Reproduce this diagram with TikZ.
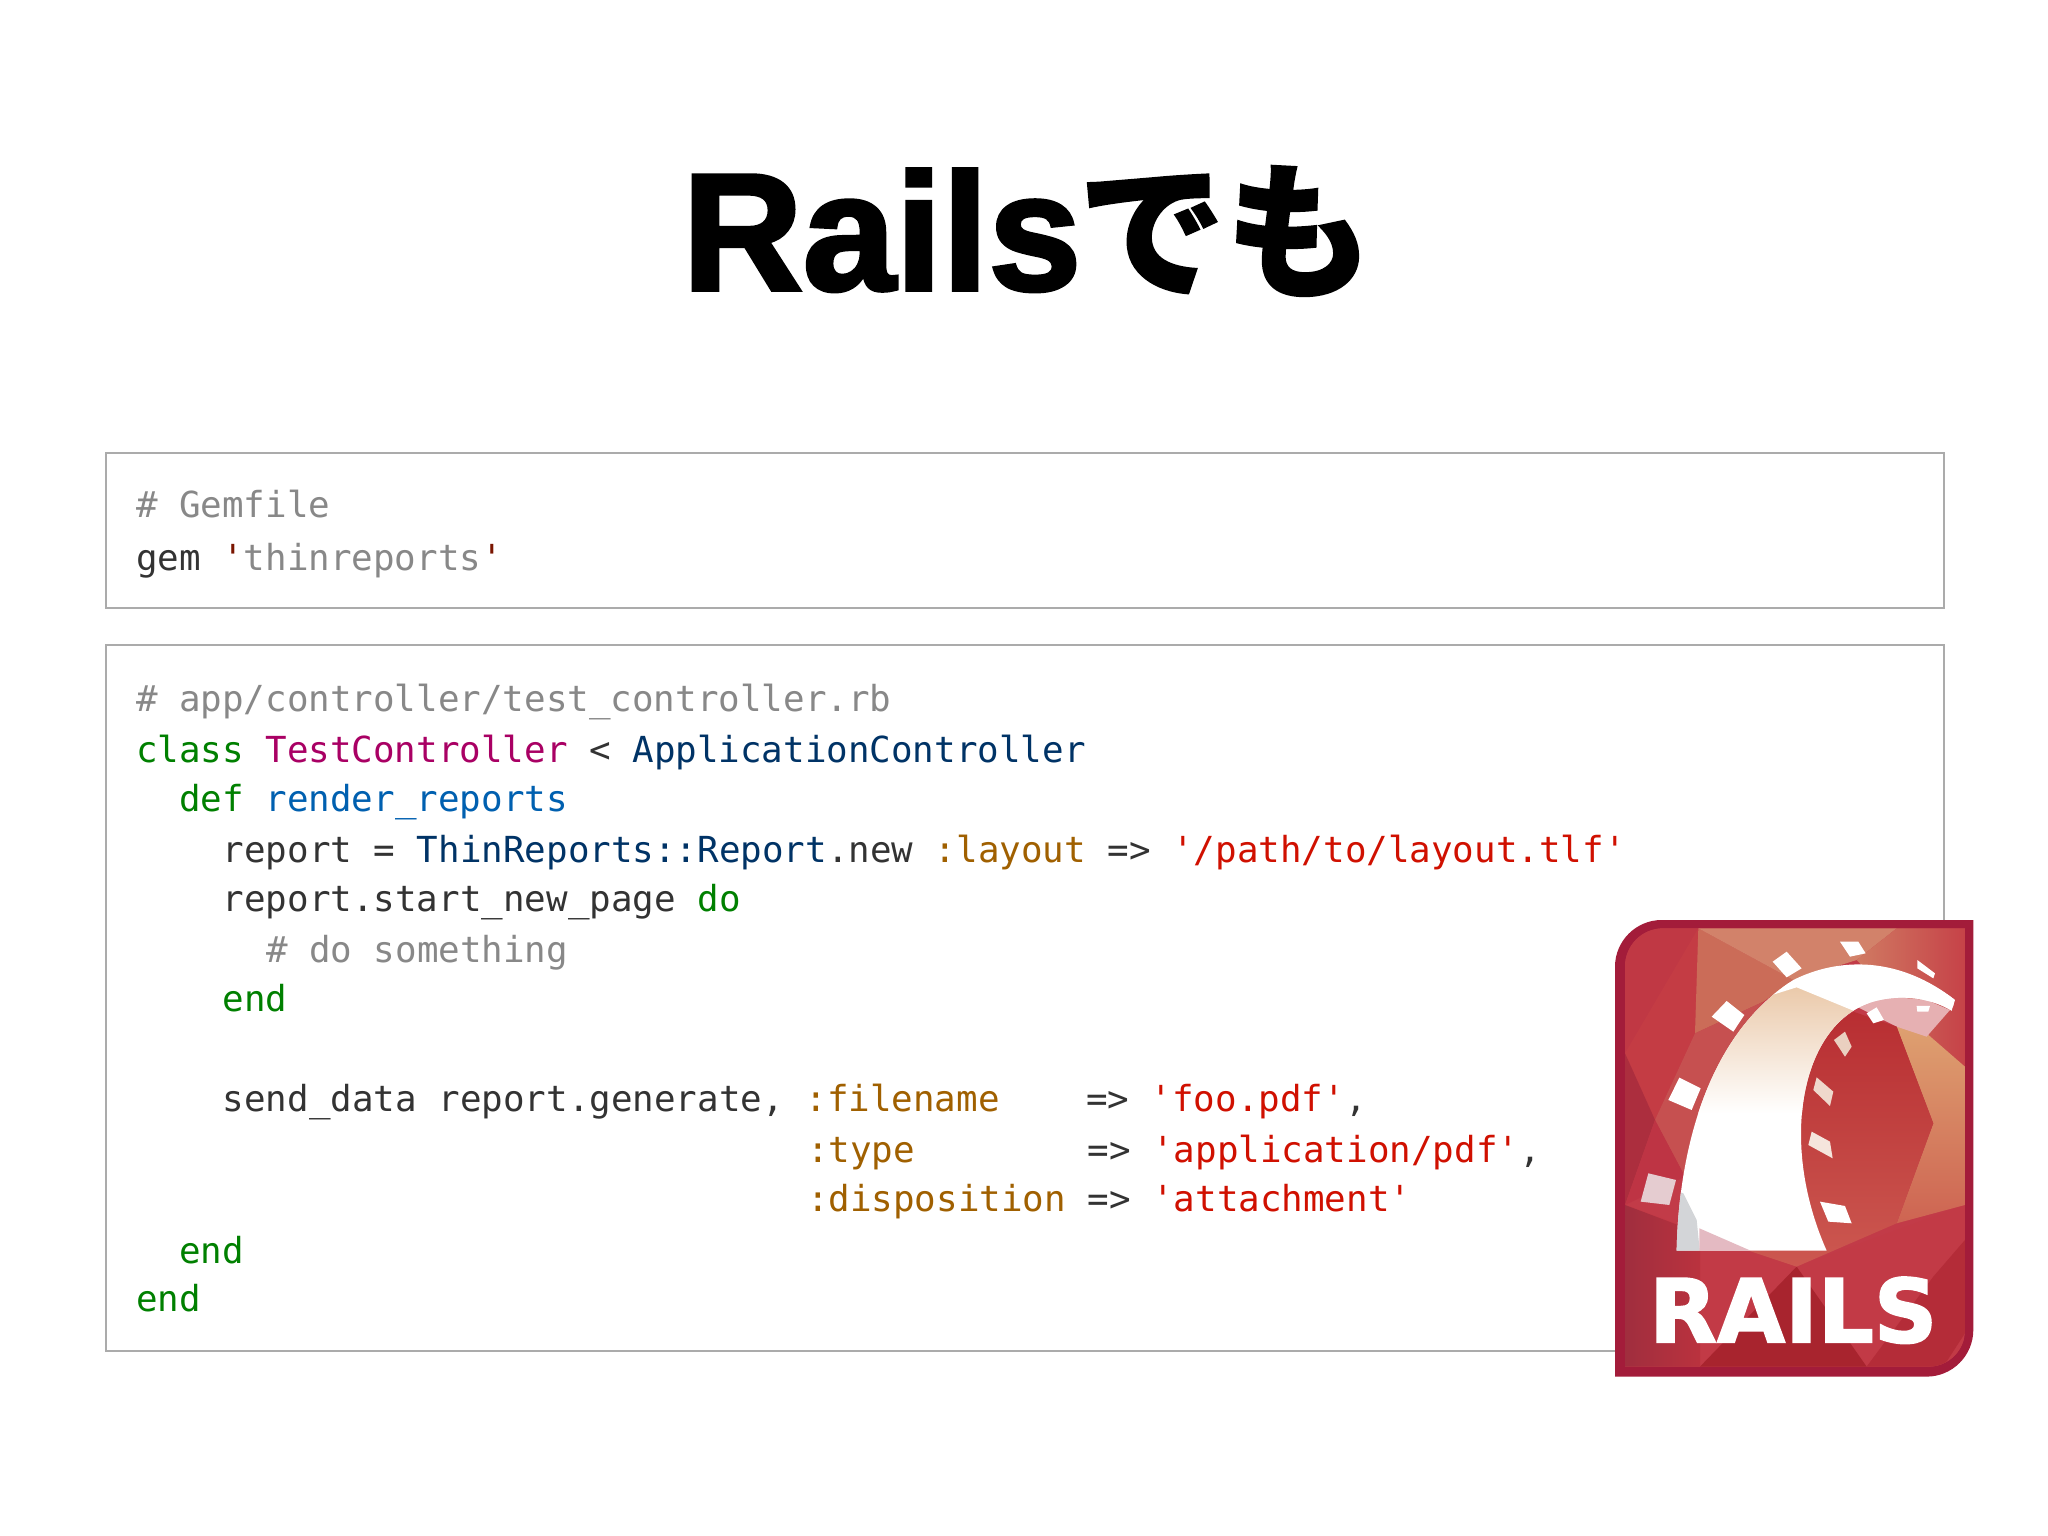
\documentclass[tikz,border=0pt]{standalone}
\usepackage{fontspec}
\setmonofont{DejaVu Sans Mono}
\newfontfamily\titlelatin[FakeBold=2.2]{Liberation Sans Bold}
\newfontfamily\titlekana[FakeBold=1.2]{Noto Sans CJK JP Black}
\newfontfamily\logofont[FakeBold=2]{DejaVu Sans Bold}
\definecolor{cmt}{HTML}{888888}
\definecolor{pln}{HTML}{333333}
\definecolor{kw}{HTML}{008000}
\definecolor{cls}{HTML}{A90064}
\definecolor{cns}{HTML}{003366}
\definecolor{fnc}{HTML}{0060B0}
\definecolor{sym}{HTML}{A06000}
\definecolor{str}{HTML}{D01000}
\definecolor{qte}{HTML}{7A1500}
\definecolor{boxline}{HTML}{ABABAB}
\newcommand\Cm[1]{\textcolor{cmt}{#1}}
\newcommand\Kw[1]{\textcolor{kw}{#1}}
\newcommand\Cl[1]{\textcolor{cls}{#1}}
\newcommand\Cn[1]{\textcolor{cns}{#1}}
\newcommand\Fn[1]{\textcolor{fnc}{#1}}
\newcommand\Sy[1]{\textcolor{sym}{#1}}
\newcommand\St[1]{\textcolor{str}{#1}}
\tikzset{
  codebox/.style={draw=boxline,line width=2pt,fill=white},
  codeline/.style={anchor=base west,inner sep=0pt,outer sep=0pt,text=pln,font=\fontsize{35.85}{40}\selectfont\ttfamily},
  tile/.style={draw=none}
}
\begin{document}
\begin{tikzpicture}[x=1pt,y=-1pt]
\useasboundingbox (0,0) rectangle (2048,1536);
\fill[white] (0,0) rectangle (2048,1536);
\node[anchor=base west,inner sep=0pt] (title) at (682,290)
  {\fontsize{167}{170}\selectfont\titlelatin Rails\hspace{-3pt}\raisebox{4pt}{\fontsize{147}{170}\selectfont\titlekana でも}};
\draw[codebox] (106,452.5) rectangle (1943.5,608);
\draw[codebox] (106,645) rectangle (1943.5,1351);
\node[codeline] (g1) at (136,517) {\Cm{\# Gemfile}};
\node[codeline] (g2) at (136,570) {gem \textcolor{qte}{'}\Cm{thinreports}\textcolor{qte}{'}};
\node[codeline] (l1) at (136,711) {\Cm{\# app/controller/test\_controller.rb}};
\node[codeline] (l2) at (136,762.5) {\Kw{class} \Cl{TestController} < \Cn{ApplicationController}};
\node[codeline] (l3) at (179.3,811) {\Kw{def} \Fn{render\_reports}};
\node[codeline] (l4) at (222.7,862) {report = \Cn{ThinReports::Report}.new \Sy{:layout} => \St{'/path/to/layout.tlf'}};
\node[codeline] (l5) at (222.7,911) {report.start\_new\_page \Kw{do}};
\node[codeline] (l6) at (266,962) {\Cm{\# do something}};
\node[codeline] (l7) at (222.7,1011) {\Kw{end}};
\node[codeline] (l8) at (222.7,1111) {send\_data report.generate, \Sy{:filename}~~~~=> \St{'foo.pdf'},};
\node[codeline] (l9) at (807,1162.5) {\Sy{:type}~~~~~~~~=> \St{'application/pdf'},};
\node[codeline] (l10) at (807,1211) {\Sy{:disposition} => \St{'attachment'}};
\node[codeline] (l11) at (179.3,1263) {\Kw{end}};
\node[codeline] (l12) at (136,1311) {\Kw{end}};
% Rails logo, coordinates from a 3x enlargement
\begin{scope}[shift={(1580,900)},x=0.3333pt,y=-0.3333pt]
\fill[fill={rgb,255:red,163;green,28;blue,58}] (105,1430) -- (105,200) .. controls (105,123) and (168,60) .. (245,60) -- (1180,60) -- (1180,1290) .. controls (1180,1367) and (1117,1430) .. (1040,1430) -- cycle;
\begin{scope}
\clip (135,1400) -- (135,200) .. controls (135,136) and (186,85) .. (250,85) -- (1155,85) -- (1155,1290) .. controls (1155,1351) and (1106,1400) .. (1045,1400) -- cycle;
\fill[fill={rgb,255:red,194;green,59;blue,72}] (100,60) rectangle (1180,1430);
\fill[fill={rgb,255:red,192;green,56;blue,68}] (135,85) -- (355,85) -- (135,460) -- cycle;
\fill[fill={rgb,255:red,196;green,60;blue,68}] (355,85) -- (345,400) -- (225,660) -- (135,460) -- cycle;
\fill[fill={rgb,255:red,203;green,108;blue,88}] (355,85) -- (640,240) -- (550,305) -- (345,400) -- cycle;
\fill[fill={rgb,255:red,210;green,130;blue,106}] (355,85) -- (950,85) -- (830,180) -- (640,240) -- cycle;
\shade[left color={rgb,255:red,208;green,122;blue,98},right color={rgb,255:red,198;green,66;blue,72}] (950,85) -- (1155,85) -- (1155,500) -- (1040,400) -- (830,180) -- cycle;
\fill[fill={rgb,255:red,198;green,80;blue,80}] (345,400) -- (550,305) -- (400,560) -- (315,830) -- (225,660) -- cycle;
\fill[fill={rgb,255:red,172;green,46;blue,62}] (135,460) -- (225,660) -- (135,915) -- cycle;
\fill[fill={rgb,255:red,190;green,52;blue,68}] (225,660) -- (315,830) -- (135,915) -- cycle;
% lower band
\fill[fill={rgb,255:red,194;green,58;blue,70}] (135,915) -- (650,1100) -- (1155,915) -- (1155,1430) -- (135,1430) -- cycle;
\shade[left color={rgb,255:red,160;green,46;blue,62},right color={rgb,255:red,186;green,50;blue,62}] (135,915) -- (360,1000) -- (360,1430) -- (135,1430) -- cycle;
\fill[fill={rgb,255:red,168;green,36;blue,46}] (650,1100) -- (860,1400) -- (360,1400) -- cycle;
\fill[fill={rgb,255:red,180;green,44;blue,56}] (1060,1130) -- (1155,1020) -- (1155,1300) -- (1090,1400) -- (860,1400) -- cycle;
% right side
\shade[top color={rgb,255:red,222;green,160;blue,112},bottom color={rgb,255:red,206;green,100;blue,82}] (950,380) -- (1040,400) -- (1155,500) -- (1155,915) -- (950,970) -- (1060,670) -- cycle;
\fill[fill={rgb,255:red,230;green,176;blue,178}] (830,320) -- (930,290) -- (1040,300) -- (1110,330) -- (1040,410) -- (950,380) -- cycle;
\shade[top color={rgb,255:red,184;green,46;blue,50},bottom color={rgb,255:red,204;green,88;blue,80}] (820,335) -- (950,380) -- (1060,670) -- (950,970) -- (650,1100) -- (500,1050) -- (600,500) -- cycle;
\end{scope}
% arch
\begin{scope}
\clip (290,1052) .. controls (295,800) and (360,420) .. (640,240) .. controls (780,170) and (960,170) .. (1125,300) -- (1115,332) .. controls (1030,280) and (900,280) .. (820,332) .. controls (650,440) and (610,760) .. (740,1052) -- cycle;
\fill[white] (280,160) rectangle (1130,1060);
\shade[top color={rgb,255:red,234;green,200;blue,168},bottom color=white] (400,250) -- (660,262) -- (830,332) -- (720,450) -- (665,640) -- (300,640) -- cycle;
\fill[white] (560,290) .. controls (700,180) and (960,170) .. (1125,300) -- (1115,332) .. controls (1030,280) and (900,280) .. (820,332) -- (650,262) -- cycle;
\fill[fill={rgb,255:red,211;green,213;blue,216}] (280,1060) -- (280,870) -- (310,880) -- (350,960) -- (360,1060) -- cycle;
\fill[fill={rgb,255:red,228;green,186;blue,194}] (358,985) -- (530,1060) -- (358,1060) -- cycle;
\end{scope}
% tiles
\foreach \c/\pts in {
  white/{(620,155) -- (665,205) -- (620,232) -- (578,185)},
  white/{(780,125) -- (835,125) -- (857,160) -- (810,170)},
  white/{(1012,180) -- (1065,220) -- (1060,235) -- (1012,205)},
  white/{(1010,318) -- (1050,318) -- (1045,335) -- (1012,335)},
  white/{(890,322) -- (912,360) -- (880,370) -- (860,340)},
  white/{(440,303) -- (493,345) -- (460,395) -- (395,350)},
  white/{(298,533) -- (362,565) -- (335,630) -- (265,600)},
  white/{(720,905) -- (795,918) -- (815,970) -- (745,965)}
}{\fill[tile,fill=\c] \pts -- cycle;}
\fill[tile,fill={rgb,255:red,234;green,208;blue,192}] (795,395) -- (815,440) -- (795,470) -- (762,420) -- cycle;
\fill[tile,fill={rgb,255:red,239;green,216;blue,204}] (710,532) -- (760,575) -- (750,618) -- (700,570) -- cycle;
\fill[tile,fill={rgb,255:red,245;green,229;blue,220}] (695,695) -- (750,725) -- (758,775) -- (685,735) -- cycle;
\fill[tile,fill={rgb,255:red,229;green,204;blue,208}] (205,820) -- (288,840) -- (268,915) -- (182,905) -- cycle;
\node[inner sep=0pt,text=white] (logotext) at (640,1231) {\fontsize{88}{88}\selectfont\logofont RAILS};
\end{scope}
\end{tikzpicture}
\end{document}
